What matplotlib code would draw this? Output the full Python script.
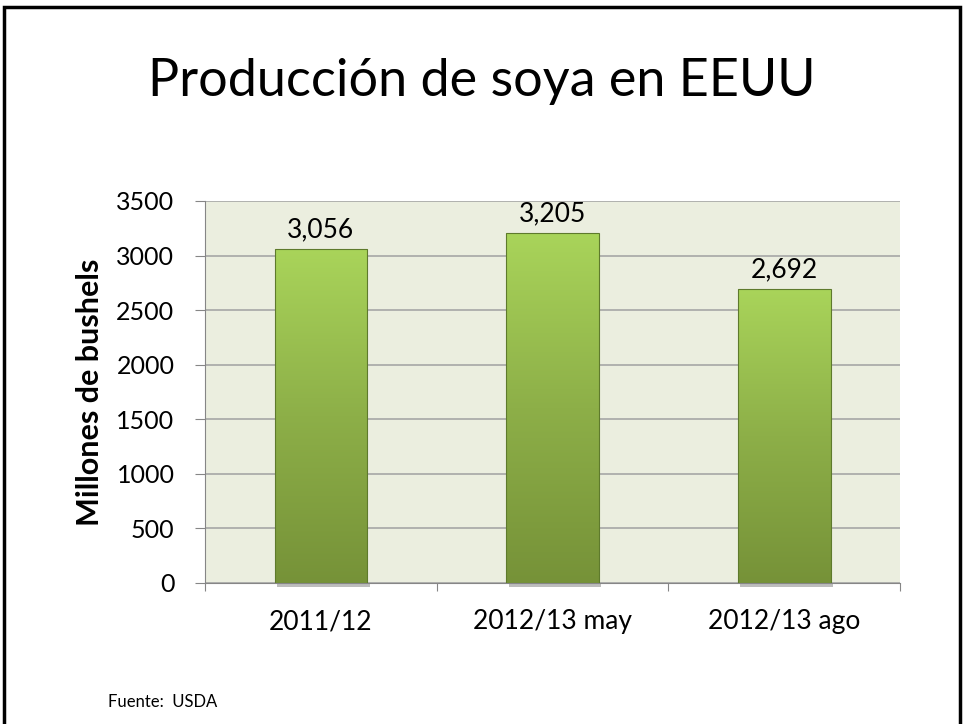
import matplotlib.pyplot as plt
import numpy as np
from matplotlib.colors import LinearSegmentedColormap
from matplotlib.patches import Rectangle

# datos
categorias = ["2011/12", "2012/13 may", "2012/13 ago"]
produccion = [3056, 3205, 2692]
etiquetas = ["3,056", "3,205", "2,692"]
yticks = [0, 500, 1000, 1500, 2000, 2500, 3000, 3500]

plt.rcParams['font.family'] = ['Lato', 'DejaVu Sans']

fig = plt.figure(figsize=(9.63, 7.24), dpi=100)
ax = fig.add_axes([0.2129, 0.1948, 0.7217, 0.5276])

# marco negro de la diapositiva
fig.patches.append(Rectangle((0.004, -0.05), 0.993, 1.04, transform=fig.transFigure,
                             fill=False, edgecolor='black', linewidth=2.5))

fig.text(0.5, 0.888, "Producción de soya en EEUU", ha='center', va='center', fontsize=37.5)
fig.text(0.112, 0.031, "Fuente:  USDA", ha='left', va='center', fontsize=12)

ax.set_facecolor('#EBEEDF')
x = np.arange(len(categorias))
bars = ax.bar(x, produccion, width=0.4, color='none', edgecolor='#5E7A2C',
              linewidth=0.8, zorder=3)

cmap = LinearSegmentedColormap.from_list('verde', ['#769238', '#8DAF48', '#A9D45A'])
grad = np.linspace(0, 1, 256).reshape(-1, 1)
for b in bars:
    x0, y0 = b.get_x(), b.get_y()
    w, h = b.get_width(), b.get_height()
    # sombra
    ax.add_patch(Rectangle((x0 + 0.01, y0 - 40), w, 40, color='#BDBDBD', zorder=2,
                           linewidth=0, clip_on=False))
    im = ax.imshow(grad, extent=[x0, x0 + w, y0, y0 + h], origin='lower', cmap=cmap,
                   aspect='auto', zorder=2.5)
    im.set_clip_path(b)

for xi, v, t in zip(x, produccion, etiquetas):
    ax.annotate(t, (xi, v), xytext=(0, 5), textcoords='offset points',
                ha='center', va='bottom', fontsize=19)

ax.set_xlim(-0.5, 2.5)
ax.set_ylim(0, 3500)
ax.set_yticks(yticks)
ax.set_yticklabels([str(v) for v in yticks], fontsize=18)
ax.yaxis.grid(True, color='#A6A6A6', linewidth=1.2, zorder=1)
ax.set_axisbelow(True)

ax.set_xticks([-0.5, 0.5, 1.5, 2.5])
ax.set_xticklabels([])
ax.set_xticks(x, minor=True)
ax.set_xticklabels(categorias, minor=True, fontsize=19)
ax.tick_params(axis='x', which='minor', length=0, pad=19)
ax.tick_params(axis='x', which='major', length=6, color='#868686', direction='out')
ax.tick_params(axis='y', length=7, color='#868686', pad=15)

ax.set_ylabel("Millones de bushels", fontsize=22, fontweight='bold', va='center')
ax.yaxis.set_label_coords(-0.165, 0.5)

for s in ['top', 'right']:
    ax.spines[s].set_visible(False)
for s in ['left', 'bottom']:
    ax.spines[s].set_color('#868686')

fig.savefig('out.png', dpi=100)
